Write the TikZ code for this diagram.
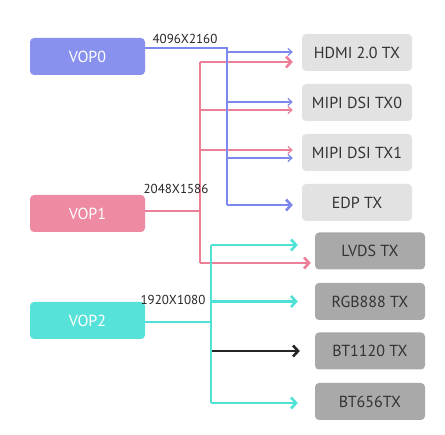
\documentclass[tikz,border=0pt]{standalone}
\usepackage{fontspec}
\setmainfont{PT Sans}
\usetikzlibrary{arrows.meta}
\definecolor{vopblue}{HTML}{8892EE}
\definecolor{voppink}{HTML}{EF8AA3}
\definecolor{vopcyan}{HTML}{56E2D8}
\definecolor{lineblue}{HTML}{7D88EC}
\definecolor{linepink}{HTML}{EC8099}
\definecolor{linecyan}{HTML}{4FE0D6}
\definecolor{txlight}{HTML}{E2E2E2}
\definecolor{txdark}{HTML}{A9A9A9}
\tikzset{
	vop/.style={rounded corners=4pt, minimum width=115pt, minimum height=37pt, inner sep=0pt, text=white, font=\fontsize{16}{16}\selectfont},
	txa/.style={rounded corners=4pt, fill=txlight, minimum width=110pt, minimum height=37pt, inner sep=0pt, text=black!80, font=\fontsize{16}{16}\selectfont},
	txb/.style={txa, fill=txdark},
	res/.style={inner sep=0pt, text=black!85, font=\fontsize{13}{13}\selectfont},
	bus/.style={line width=2.6pt},
	tap/.style={line width=1.2pt, -{Straight Barb[length=4pt, width=7pt]}},
	feed/.style={line width=2.6pt, -{Straight Barb[length=5pt, width=11pt]}}
}

\begin{document}
\begin{tikzpicture}[x=1pt, y=-1pt]
	\useasboundingbox (0,0) rectangle (445,435);

	% sources
	\node[vop, fill=vopblue] (vop0) at (87.5,56.5) {VOP0};
	\node[vop, fill=voppink] (vop1) at (87.5,213.5) {VOP1};
	\node[vop, fill=vopcyan] (vop2) at (87.5,320.5) {VOP2};

	% sinks
	\node[txa] (hdmi) at (357,52.5) {HDMI 2.0 TX};
	\node[txa] (dsi0) at (357,102.5) {MIPI DSI TX0};
	\node[txa] (dsi1) at (357,152.5) {MIPI DSI TX1};
	\node[txa] (edp) at (357,202.5) {EDP TX};
	\node[txb] (lvds) at (370,251) {LVDS TX};
	\node[txb] (rgb) at (370,301.5) {RGB888 TX};
	\node[txb] (bt1120) at (370,351) {BT1120 TX};
	\node[txb] (bt656) at (370,401.5) {BT656TX};

	% junctions
	\coordinate (b0) at (227,48);
	\coordinate (p0) at (200,62);
	\coordinate (p1) at (200,263);
	\coordinate (c0) at (211,245);
	\coordinate (c1) at (211,403);

	% VOP1
	\draw[bus, linepink] (vop1.east |- 0,211) -- (p0 |- 0,211);
	\draw[bus, linepink] (p0) -- (p1);
	\draw[feed, linepink] (p0) -- ([xshift=-9pt]hdmi.west |- p0);
	\draw[feed, linepink] (p1) -- ([xshift=-4pt]lvds.west |- p1);
	\draw[tap, linepink] (p0 |- 0,110) -- ([xshift=-9pt]dsi0.west |- 0,110);
	\draw[tap, linepink] (p0 |- 0,150) -- ([xshift=-9pt]dsi1.west |- 0,150);

	% VOP0
	\draw[bus, lineblue] (vop0.east |- b0) -- (b0) -- (b0 |- 0,205);
	\draw[feed, lineblue] (b0 |- 0,205) -- ([xshift=-9pt]edp.west |- 0,205);
	\draw[tap, lineblue] (b0 |- 0,52) -- ([xshift=-9pt]hdmi.west |- 0,52);
	\draw[tap, lineblue] (b0 |- 0,102) -- ([xshift=-9pt]dsi0.west |- 0,102);
	\draw[tap, lineblue] (b0 |- 0,158) -- ([xshift=-9pt]dsi1.west |- 0,158);

	% VOP2
	\draw[bus, linecyan] (vop2.east |- 0,322) -- (c0 |- 0,322);
	\draw[bus, linecyan] (c0) -- (c1);
	\draw[feed, linecyan] (c0) -- ([xshift=-17pt]lvds.west |- c0);
	\draw[feed, linecyan] (c0 |- rgb) -- ([xshift=-17pt]rgb.west);
	\draw[feed, black!85] ([xshift=1pt]c0 |- bt1120) -- ([xshift=-15pt]bt1120.west);
	\draw[feed, linecyan] (c1) -- ([xshift=-17pt]bt656.west |- c1);

	% resolutions
	\node[res] (r0) at (185,39) {4096X2160};
	\node[res] (r1) at (176,189) {2048X1586};
	\node[res] (r2) at (173,300) {1920X1080};
\end{tikzpicture}
\end{document}
